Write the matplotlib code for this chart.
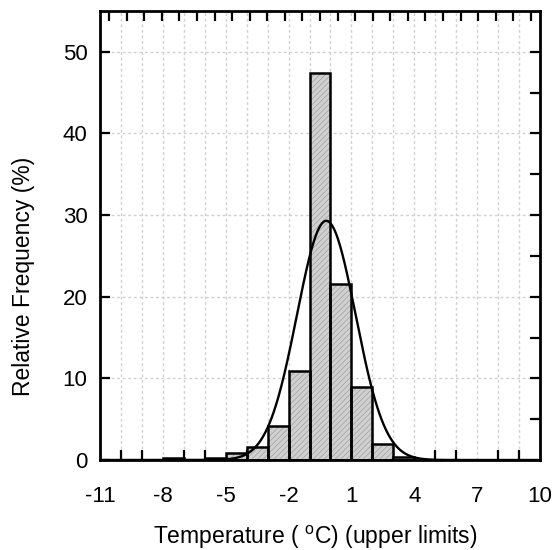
import numpy as np
import matplotlib
matplotlib.use('Agg')
import matplotlib.pyplot as plt

plt.rcParams['font.family'] = ['Liberation Sans', 'DejaVu Sans']
plt.rcParams['mathtext.fontset'] = 'custom'
plt.rcParams['mathtext.rm'] = 'Liberation Sans'
plt.rcParams['axes.unicode_minus'] = False
plt.rcParams['hatch.linewidth'] = 0.5

# Histogram bins (lower edge, width 1 degree) and relative frequency (%)
bin_lower = [-9, -8, -7, -6, -5, -4, -3, -2, -1, 0, 1, 2, 3]
rel_freq = [0.0, 0.2, 0.05, 0.2, 0.9, 1.6, 4.2, 10.9, 47.4, 21.6, 9.0, 1.9, 0.4]

# Fitted normal curve
fit_mean = -0.2
fit_sd = 1.4
fit_peak = 29.3

x_ticks = [-11, -8, -5, -2, 1, 4, 7, 10]
y_ticks = [0, 10, 20, 30, 40, 50]

fig = plt.figure(figsize=(5.52, 5.50), dpi=100)
ax = fig.add_axes([100 / 552, 90 / 550, 440 / 552, 449 / 550])

# grid
for gx in range(-10, 10):
    ax.axvline(gx, color='#d0d0d0', lw=1, ls=(0, (2, 2)), zorder=0)
for gy in range(10, 55, 10):
    ax.axhline(gy, color='#d0d0d0', lw=1, ls=(0, (2, 2)), zorder=0)

# bars: hatched fill then black outline
ax.bar(bin_lower, rel_freq, width=1, align='edge', color='#d0d0d0',
       edgecolor='#a0a0a0', hatch='//////', lw=0, zorder=2)
ax.bar(bin_lower, rel_freq, width=1, align='edge', fill=False,
       edgecolor='black', lw=1.8, zorder=3)

xs = np.linspace(-11, 10, 600)
ys = fit_peak * np.exp(-0.5 * ((xs - fit_mean) / fit_sd) ** 2)
ax.plot(xs, ys, color='black', lw=1.7, zorder=4)

ax.set_xlim(-11, 10)
ax.set_ylim(0, 55)
ax.set_xticks(x_ticks)
ax.set_yticks(y_ticks)
ax.set_xticks(range(-10, 10), minor=True)
ax.tick_params(axis='x', which='major', direction='in', length=0, pad=19, labelsize=16)
ax.tick_params(axis='x', which='minor', direction='in', length=7, width=1.6)
ax.tick_params(axis='y', which='major', direction='in', length=7, width=1.6, pad=9, labelsize=16)

for s in ax.spines.values():
    s.set_linewidth(2)

# top and right tick marks
top = ax.secondary_xaxis('top')
top.set_xticks(np.linspace(-10.57, 9.57, 25))
top.tick_params(direction='in', length=7, width=1.6, labeltop=False)
top.spines['top'].set_visible(False)
right = ax.secondary_yaxis('right')
right.set_yticks(range(5, 55, 5))
right.tick_params(direction='in', length=7, width=1.6, labelright=False)
right.spines['right'].set_visible(False)

ax.set_xlabel('Temperature ( $^{\\rm o}$C) (upper limits)', fontsize=16.5)
ax.set_ylabel('Relative Frequency (%)', fontsize=16.5)
ax.xaxis.set_label_coords(0.49, -0.143)
ax.yaxis.set_label_coords(-0.147, 0.41)

fig.savefig('out.png', dpi=100)
